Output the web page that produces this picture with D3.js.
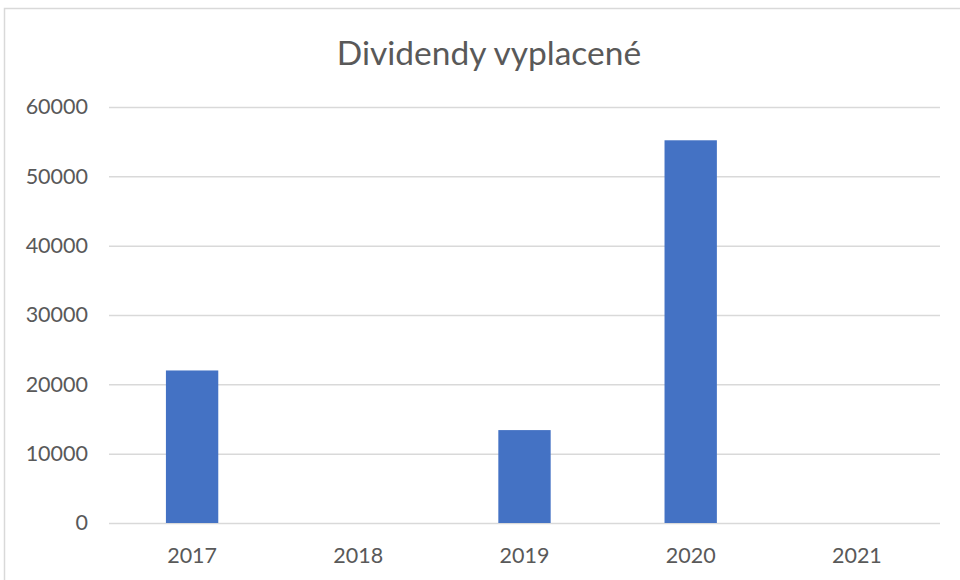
<!DOCTYPE html>
<html><head><meta charset="utf-8">
<script src="https://cdn.jsdelivr.net/npm/d3@7"></script>
<style>body{margin:0;background:#fff}svg{display:block}</style>
</head><body>
<svg id="c" width="960" height="580"></svg>
<script>
const categories = ["2017","2018","2019","2020","2021"];
const values = [22000, 0, 13400, 55200, 0];
const yTicks = [0,10000,20000,30000,40000,50000,60000];
const title = "Dividendy vyplacené";

const svg = d3.select("#c");
const font = "Lato, 'Open Sans', sans-serif";
svg.append("rect").attr("x",4.5).attr("y",8.5).attr("width",970).attr("height",600)
  .attr("fill","#fff").attr("stroke","#d9d9d9").attr("stroke-width",1.5);

const x = d3.scaleBand().domain(categories).range([109,940]).paddingInner(0.685).paddingOuter(0.3425);
const y = d3.scaleLinear().domain([0,60000]).range([523,107]);

svg.append("text").attr("x",489).attr("y",65).attr("text-anchor","middle")
  .attr("font-family",font).attr("font-size",33.5).attr("fill","#595959").text(title);

const ga = svg.append("g").attr("transform","translate(109,0)")
  .call(d3.axisLeft(y).tickValues(yTicks).tickSize(-831).tickPadding(21).tickFormat(d3.format("d")));
ga.select(".domain").remove();
ga.selectAll("line").attr("stroke","#d9d9d9").attr("stroke-width",1.5);
ga.selectAll("text").attr("font-family",font).attr("font-size",21.5).attr("fill","#595959");

svg.append("g").selectAll("rect").data(values).join("rect")
  .attr("x",(d,i)=>x(categories[i])).attr("width",x.bandwidth())
  .attr("y",d=>y(d)).attr("height",d=>y(0)-y(d)).attr("fill","#4472c4");

const gx = svg.append("g").attr("transform","translate(0,523)")
  .call(d3.axisBottom(x).tickSize(0).tickPadding(25));
gx.select(".domain").remove();
gx.selectAll("text").attr("font-family",font).attr("font-size",21.5).attr("fill","#595959");
</script>
</body></html>
